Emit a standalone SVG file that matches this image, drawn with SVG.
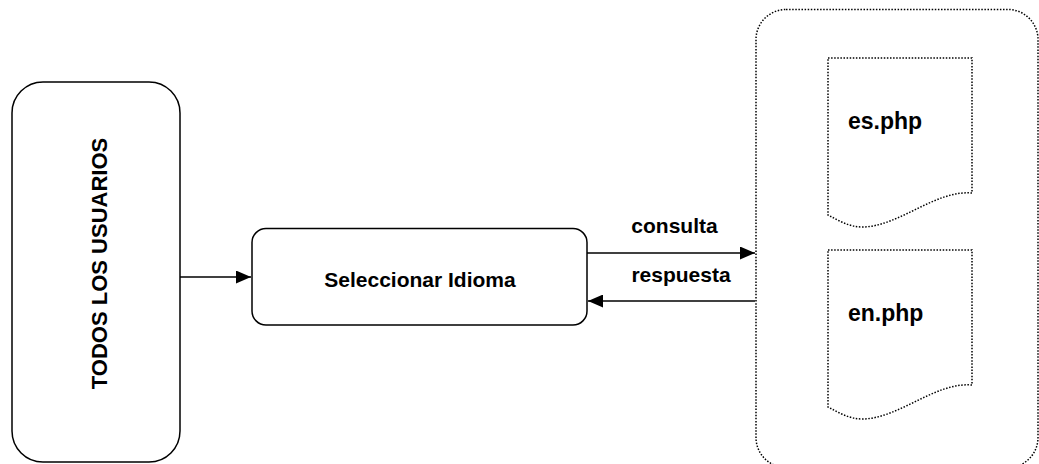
<svg xmlns="http://www.w3.org/2000/svg" width="1039" height="464" viewBox="0 0 1039 464">
  <style>
    .solid { fill: #ffffff; stroke: #000000; stroke-width: 1.5; }
    .dotted { fill: #ffffff; stroke: #000000; stroke-width: 1.5; stroke-dasharray: 1.5 1.6; }
    .lbl { font-family: "Liberation Sans", Arial, sans-serif; font-weight: bold; fill: #000000; }
    .edge { stroke: #000000; stroke-width: 1.5; fill: none; }
  </style>
  <defs>
    <marker id="arrow" markerUnits="userSpaceOnUse" viewBox="0 0 15 13" refX="15" refY="6.5" markerWidth="15" markerHeight="13" orient="auto">
      <path d="M0,0 L15,6.5 L0,13 Z" fill="#000000"/>
    </marker>
  </defs>

  <rect width="1039" height="464" fill="#ffffff"/>

  <g id="container">
    <rect class="dotted" x="756" y="9.5" width="282" height="458" rx="30" ry="30"/>
  </g>

  <g id="todos-usuarios">
    <rect class="solid" x="12" y="82" width="168" height="380" rx="31" ry="31"/>
    <text class="lbl" font-size="22" text-anchor="middle" transform="translate(106.5,263.5) rotate(-90)">TODOS LOS USUARIOS</text>
  </g>

  <g id="seleccionar-idioma">
    <rect class="solid" x="252" y="228.5" width="335" height="96.5" rx="14" ry="14"/>
    <text class="lbl" font-size="21" x="420" y="286.5" text-anchor="middle">Seleccionar Idioma</text>
  </g>

  <g id="es-php">
    <path class="dotted" d="M828,58 H972 V193 C935,190 900,226 863,227 C848,227 838,220 828,215 Z"/>
    <text class="lbl" font-size="23" x="848" y="128.5">es.php</text>
  </g>

  <g id="en-php">
    <path class="dotted" d="M828,250 H972 V385 C935,382 900,418 863,419 C848,419 838,412 828,407 Z"/>
    <text class="lbl" font-size="23" x="848" y="320.5">en.php</text>
  </g>

  <g id="connectors">
    <line class="edge" x1="180" y1="277" x2="251" y2="277" marker-end="url(#arrow)"/>
    <line class="edge" x1="587" y1="253" x2="755" y2="253" marker-end="url(#arrow)"/>
    <line class="edge" x1="755" y1="301" x2="588" y2="301" marker-end="url(#arrow)"/>
    <text class="lbl" font-size="21" x="674.5" y="232.5" text-anchor="middle">consulta</text>
    <text class="lbl" font-size="21" x="681" y="282" text-anchor="middle">respuesta</text>
  </g>
</svg>
